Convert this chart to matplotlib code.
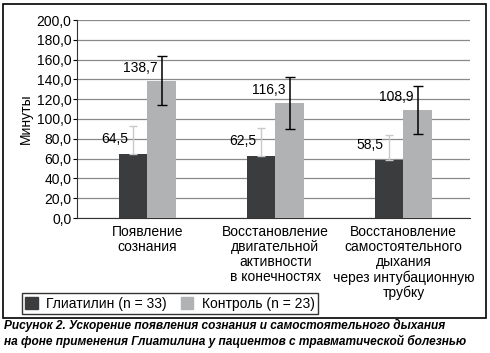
import numpy as np
import matplotlib.pyplot as plt
from matplotlib.patches import Rectangle, Patch
from matplotlib.ticker import FuncFormatter

plt.rcParams['font.family'] = ['Liberation Sans', 'DejaVu Sans']

# data
categories = ["Появление\nсознания",
              "Восстановление\nдвигательной\nактивности\nв конечностях",
              "Восстановление\nсамостоятельного\nдыхания\nчерез интубационную\nтрубку"]
gliatilin = [64.5, 62.5, 58.5]
gliatilin_err = [28.5, 28.5, 25.5]
control = [138.7, 116.3, 108.9]
control_err = [24.5, 26.0, 24.5]
legend_labels = ["Глиатилин (n = 33)", "Контроль (n = 23)"]
caption = ("Рисунок 2. Ускорение появления сознания и самостоятельного дыхания\n"
           "на фоне применения Глиатилина у пациентов с травматической болезнью")

DARK = "#3b3c3e"
LIGHT = "#b1b2b4"
FS = 10

fig = plt.figure(figsize=(4.9, 3.53), dpi=100)
ax = fig.add_axes([77 / 490, 135 / 353, 393 / 490, 198 / 353])

x = np.arange(len(categories))
w = 0.225
ax.bar(x - w / 2, gliatilin, w, color=DARK, zorder=3)
ax.bar(x + w / 2, control, w, color=LIGHT, zorder=3)
ax.errorbar(x - w / 2, gliatilin, yerr=[[0] * 3, gliatilin_err], fmt="none",
            ecolor="#c9c9c9", elinewidth=1, capsize=3, zorder=4)
ax.errorbar(x + w / 2, control, yerr=control_err, fmt="none",
            ecolor="black", elinewidth=1.1, capsize=3.5, zorder=4)

def fmt(v):
    return f"{v:.1f}".replace(".", ",")

for xi, v in zip(x - w / 2, gliatilin):
    ax.text(xi - 0.04, v + 15, fmt(v), ha="right", va="center", fontsize=FS)
for xi, v in zip(x + w / 2, control):
    ax.text(xi - 0.03, v + 13, fmt(v), ha="right", va="center", fontsize=FS)

ax.set_ylim(0, 200)
ax.set_yticks(np.arange(0, 201, 20))
ax.yaxis.set_major_formatter(FuncFormatter(lambda v, p: fmt(v)))
ax.set_xlim(-0.55, 2.52)
ax.set_xticks(x)
ax.set_xticklabels(categories, fontsize=FS, linespacing=1.1)
ax.tick_params(axis="x", length=0, pad=5)
ax.tick_params(axis="y", labelsize=FS, length=3, pad=1)
ax.grid(axis="y", color="#8a8a8a", lw=0.9, zorder=0)
ax.set_ylabel("Минуты", fontsize=FS, labelpad=3)
for s in ["top", "right"]:
    ax.spines[s].set_visible(False)
ax.spines["left"].set_color("#333333")
ax.spines["bottom"].set_color("#333333")

handles = [Patch(color=DARK), Patch(color=LIGHT)]
leg = fig.legend(handles, legend_labels, loc="lower left",
                 bbox_to_anchor=(22 / 490, 39 / 353), borderaxespad=0,
                 ncol=2, fontsize=FS,
                 frameon=True, fancybox=False, edgecolor="black",
                 handlelength=0.9, handleheight=0.9, columnspacing=1.0,
                 borderpad=0.25, handletextpad=0.6)
leg.get_frame().set_linewidth(1.0)

fig.patches.append(Rectangle((3 / 490, 35 / 353), 483 / 490, 314 / 353,
                             transform=fig.transFigure, fill=False,
                             edgecolor="black", lw=1.2))

fig.text(4 / 490, 1 - 319 / 353, caption, ha="left", va="top", fontsize=8.6,
         fontweight="bold", fontstyle="italic", linespacing=1.3)

fig.savefig("out.png", dpi=100)
